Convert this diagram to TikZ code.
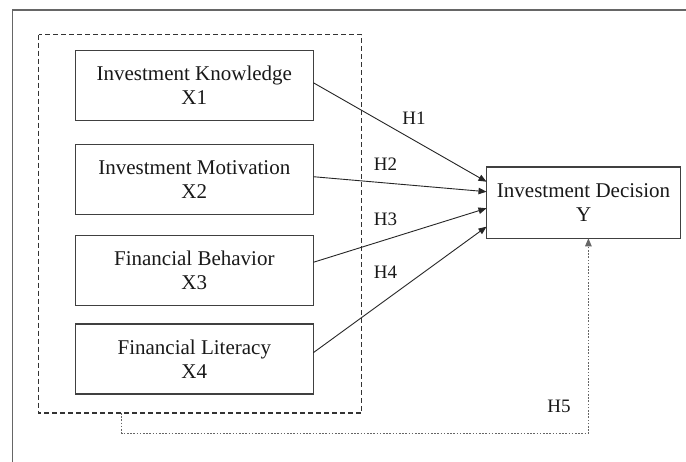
\documentclass[tikz,border=0pt]{standalone}
\usepackage{fontspec}
\setmainfont{Liberation Serif}
\usetikzlibrary{arrows.meta}
\begin{document}
\begin{tikzpicture}[x=1pt,y=-1pt,
  varbox/.style={draw=black!75, line width=1.5pt, minimum width=238pt, minimum height=70pt,
    align=center, font=\fontsize{21}{24.5}\selectfont, inner sep=0pt, text=black!90},
  path/.style={draw=black!85, line width=0.9pt, -{Triangle[length=8pt,width=6.5pt]}},
  hlabel/.style={font=\fontsize{19}{20}\selectfont, inner sep=0pt, text=black!90}]
  % canvas and outer frame
  \useasboundingbox (0,0) rectangle (686,461);
  \fill[white] (0,0) rectangle (686,461);
  \draw[black!60, line width=1.4pt] (12.5,470) -- (12.5,10) -- (700,10);

  % group of independent variables
  \draw[black!80, line width=1.3pt, dash pattern=on 5pt off 3pt] (38.5,34.5) rectangle (361.5,413);

  \node[varbox] (x1) at (194.3,85.3)  {Investment Knowledge\\X1};
  \node[varbox] (x2) at (194.3,179.7) {Investment Motivation\\X2};
  \node[varbox] (x3) at (194.3,270.3) {Financial Behavior\\X3};
  \node[varbox] (x4) at (194.3,359)   {Financial Literacy\\X4};

  \node[varbox, minimum width=194pt, minimum height=71.5pt] (y) at (583.6,202.5) {Investment Decision\\Y};

  % hypothesised paths
  \coordinate (s1) at (313.3,82.7);
  \coordinate (s2) at (313.3,176.7);
  \coordinate (s3) at (313.3,262.3);
  \coordinate (s4) at (313.3,352.7);
  \coordinate (t1) at (486.5,181.7);
  \coordinate (t2) at (486.5,191.7);
  \coordinate (t3) at (486.5,208.3);
  \coordinate (t4) at (486.5,226.7);
  \draw[path] (s1) -- (t1);
  \draw[path] (s2) -- (t2);
  \draw[path] (s3) -- (t3);
  \draw[path] (s4) -- (t4);

  \node[hlabel] (h1) at (414,118.3) {H1};
  \node[hlabel] (h2) at (385.5,164) {H2};
  \node[hlabel] (h3) at (385.5,219) {H3};
  \node[hlabel] (h4) at (385.5,272.3) {H4};
  \node[hlabel] (h5) at (559,406) {H5};

  % moderating path from the whole group
  \coordinate (g) at (121.7,413);
  \coordinate (yb) at (588.4,238.3);
  \draw[black!60, line width=0.9pt, dash pattern=on 1.6pt off 1.6pt, -{Triangle[length=8pt,width=6.5pt]}]
    (g) -- (121.7,433.3) -- (588.4,433.3) -- (yb);
\end{tikzpicture}
\end{document}
